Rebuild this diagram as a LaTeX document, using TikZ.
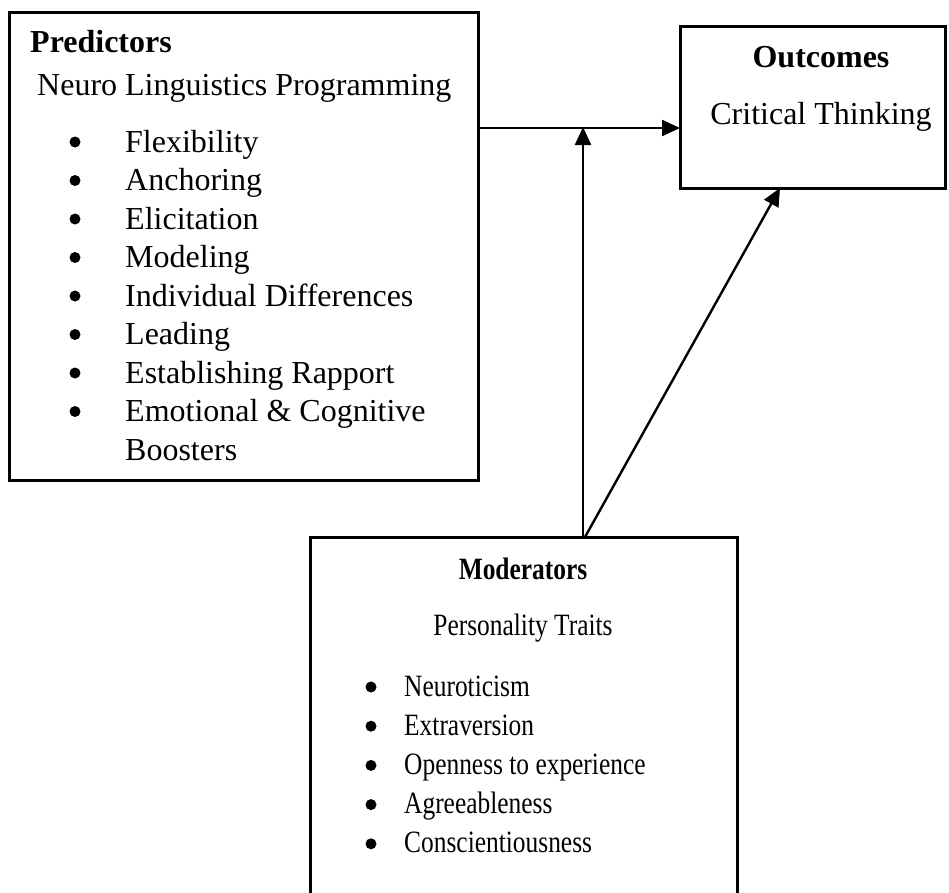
\documentclass[tikz,border=0pt]{standalone}
\usepackage{fontspec}
\setmainfont{Liberation Serif}
\newfontfamily\condfont[FakeStretch=0.82]{Liberation Serif}
\usetikzlibrary{arrows.meta}
\begin{document}
\begin{tikzpicture}[x=1pt,y=-1pt,
  box/.style={draw,line width=3pt,inner sep=0,outer sep=0,anchor=north west},
  txt/.style={inner sep=0,anchor=base west,font=\fontsize{32}{38}\selectfont},
  ctxt/.style={inner sep=0,anchor=base,font=\fontsize{32}{38}\selectfont},
  mtxt/.style={inner sep=0,anchor=base west,font=\condfont\fontsize{31}{38}\selectfont},
  mctxt/.style={inner sep=0,anchor=base,font=\condfont\fontsize{31}{38}\selectfont},
  dot/.style={circle,fill,inner sep=0,minimum size=11pt},
  arr/.style={line width=2.4pt,-{Triangle[length=18pt,width=16pt]}}]
\useasboundingbox (0,0) rectangle (949,892);
% boxes
\node[box,minimum width=469pt,minimum height=468pt] (pred) at (9,12) {};
\node[box,minimum width=265pt,minimum height=162pt] (out) at (680,26) {};
\node[box,minimum width=427pt,minimum height=400pt] (mod) at (310,537) {};
% predictors text
\node[txt,font=\bfseries\fontsize{32}{38}\selectfont] (pt) at (30,52) {Predictors};
\node[txt] (pnlp) at (37,95) {Neuro Linguistics Programming};
\foreach \i/\t in {0/Flexibility,1/Anchoring,2/Elicitation,3/Modeling,4/Individual Differences,5/Leading,6/Establishing Rapport,7/Emotional \& Cognitive}{
  \node[dot] (pb\i) at (75,142+38.5*\i) {};
  \node[txt] (pi\i) at (125,152+38.5*\i) {\t};
}
\node[txt] (pi8) at (125,460) {Boosters};
% outcomes text
\node[ctxt,font=\bfseries\fontsize{32}{38}\selectfont] (ot) at (821,67) {Outcomes};
\node[ctxt] (oct) at (821,124) {Critical Thinking};
% moderators text
\node[mctxt,font=\condfont\bfseries\fontsize{31}{38}\selectfont] (mt) at (523,579) {Moderators};
\node[mctxt] (mpt) at (523,635) {Personality Traits};
\foreach \i/\t in {0/Neuroticism,1/Extraversion,2/Openness to experience,3/Agreeableness,4/Conscientiousness}{
  \node[dot] (mb\i) at (371,687+39.2*\i) {};
  \node[mtxt] (mi\i) at (404,696+39.2*\i) {\t};
}
% connectors
\coordinate (h) at (0,128);
\coordinate (v) at ([xshift=273pt]mod.north west);
\coordinate (d) at ([xshift=275pt]mod.north west);
\coordinate (dt) at ([xshift=100pt]out.south west);
\draw[arr] (pred.east |- h) -- (out.west |- h);
\draw[arr] (v) -- ([yshift=1pt]v |- h);
\draw[arr] (d) -- (dt);
\end{tikzpicture}
\end{document}
